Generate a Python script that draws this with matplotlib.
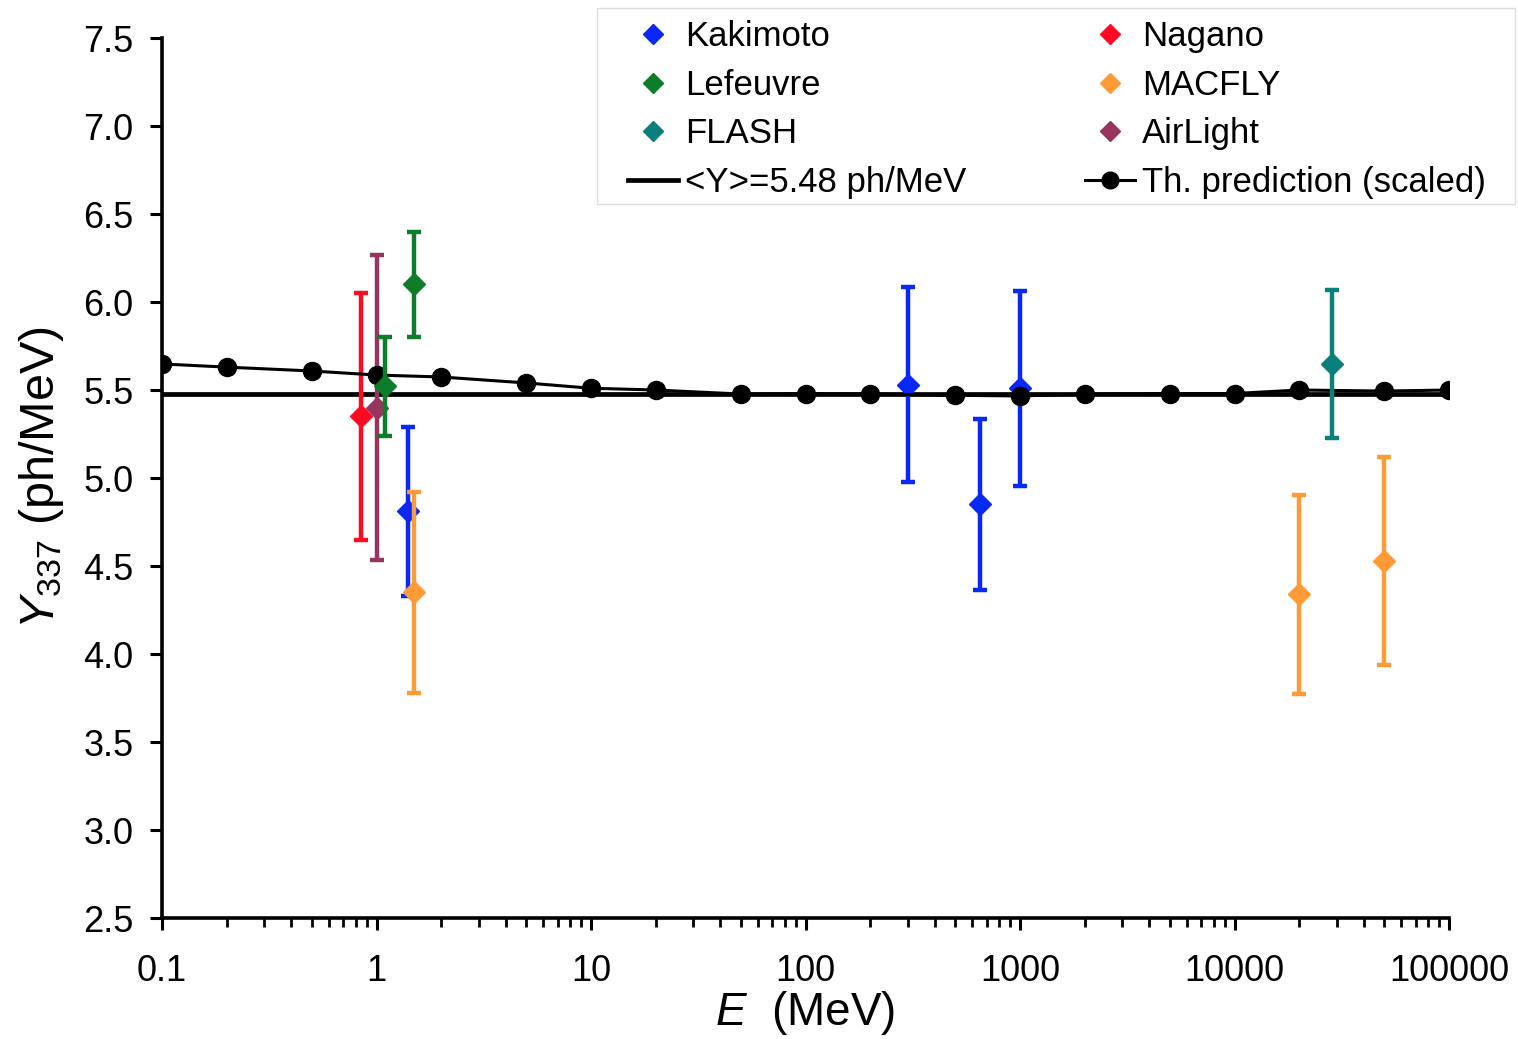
import matplotlib
matplotlib.use("Agg")
import matplotlib.pyplot as plt
from matplotlib.lines import Line2D
from matplotlib.patches import Rectangle
from matplotlib.ticker import FixedLocator, LogLocator, NullFormatter, FuncFormatter

plt.rcParams['font.family'] = ['Liberation Sans', 'DejaVu Sans']
plt.rcParams['mathtext.fontset'] = 'custom'
plt.rcParams['mathtext.rm'] = 'Liberation Sans'
plt.rcParams['mathtext.it'] = 'Liberation Sans:italic'

# Experimental data: energy (MeV), yield (ph/MeV), error
kakimoto_E = [1.4, 300, 650, 1000]
kakimoto_Y = [4.81, 5.53, 4.85, 5.51]
kakimoto_err = [0.48, 0.555, 0.485, 0.555]

nagano_E = [0.85]
nagano_Y = [5.35]
nagano_err = [0.70]

lefeuvre_E = [1.1, 1.5]
lefeuvre_Y = [5.52, 6.10]
lefeuvre_err = [0.28, 0.30]

macfly_E = [1.5, 20000, 50000]
macfly_Y = [4.35, 4.34, 4.53]
macfly_err = [0.57, 0.565, 0.59]

flash_E = [28500]
flash_Y = [5.65]
flash_err = [0.42]

airlight_E = [1.0]
airlight_Y = [5.40]
airlight_err = [0.865]

mean_E = [0.1, 100000]
mean_Y = [5.48, 5.48]

theory_E = [0.1, 0.2, 0.5, 1, 2, 5, 10, 20, 50, 100, 200, 500, 1000, 2000,
            5000, 10000, 20000, 50000, 100000]
theory_Y = [5.648, 5.63, 5.608, 5.585, 5.574, 5.54, 5.51, 5.50, 5.477, 5.48,
            5.477, 5.47, 5.466, 5.477, 5.48, 5.48, 5.50, 5.494, 5.50]

x_ticks = [0.1, 1, 10, 100, 1000, 10000, 100000]
x_tick_labels = ["0.1", "1", "10", "100", "1000", "10000", "100000"]
y_ticks = [2.5, 3.0, 3.5, 4.0, 4.5, 5.0, 5.5, 6.0, 6.5, 7.0, 7.5]

c_kak = '#0A28F5'
c_nag = '#FF0A22'
c_lef = '#0E7D2A'
c_mac = '#FF9B37'
c_fla = '#0A7F7B'
c_air = '#973561'

W, H = 1518, 1039
fig = plt.figure(figsize=(W/100, H/100), dpi=100)
ax = fig.add_axes([162/W, 1 - 918/H, (1449-162)/W, (918-38)/H])

ax.plot(mean_E, mean_Y, color='black', lw=3.4, zorder=2, solid_capstyle='butt')

eb_kw = dict(fmt='D', markersize=11, elinewidth=3.2, capsize=5, capthick=3.2, linestyle='none')

def eb(E, Y, err, color, z):
    ax.errorbar(E, Y, yerr=err, color=color, zorder=z, **eb_kw)

eb(airlight_E, airlight_Y, airlight_err, c_air, 3)
eb(nagano_E, nagano_Y, nagano_err, c_nag, 3)
eb(kakimoto_E, kakimoto_Y, kakimoto_err, c_kak, 3)
ax.plot(theory_E, theory_Y, color='black', lw=2.2, marker='o', markersize=13, zorder=4)
eb(lefeuvre_E, lefeuvre_Y, lefeuvre_err, c_lef, 5)
eb(macfly_E, macfly_Y, macfly_err, c_mac, 5)
eb(flash_E, flash_Y, flash_err, c_fla, 5)

ax.set_xscale('log')
ax.set_xlim(0.1, 100000)
ax.set_ylim(2.5, 7.5)
ax.xaxis.set_major_locator(FixedLocator(x_ticks))
ax.set_xticklabels(x_tick_labels)
ax.xaxis.set_minor_locator(LogLocator(base=10, subs=range(2, 10), numticks=20))
ax.xaxis.set_minor_formatter(NullFormatter())
ax.set_yticks(y_ticks)
ax.yaxis.set_major_formatter(FuncFormatter(lambda v, p: f"{v:.1f}"))

for s in ['top', 'right']:
    ax.spines[s].set_visible(False)
for s in ['left', 'bottom']:
    ax.spines[s].set_linewidth(2.6)

ax.tick_params(axis='both', which='major', direction='out', length=8.6, width=2.2,
               labelsize=26)
ax.tick_params(axis='x', which='major', pad=17)
ax.tick_params(axis='y', which='major', pad=12)
ax.tick_params(axis='x', which='minor', direction='out', length=6.5, width=2.0)

ax.set_xlabel(r"$\mathit{E}$  (MeV)", fontsize=33, labelpad=0)
ax.set_ylabel(r"$\mathit{Y}_{\mathregular{337}}$ (ph/MeV)", fontsize=35, labelpad=12)

mk = dict(marker='D', linestyle='none', markersize=10.5)
handles = [
    Line2D([], [], color=c_kak, **mk),
    Line2D([], [], color=c_lef, **mk),
    Line2D([], [], color=c_fla, **mk),
    Line2D([], [], color='black', lw=3.4),
    Line2D([], [], color=c_nag, **mk),
    Line2D([], [], color=c_mac, **mk),
    Line2D([], [], color=c_air, **mk),
    Line2D([], [], color='black', lw=2.2, marker='o', markersize=12),
]
labels = ["Kakimoto", "Lefeuvre", "FLASH", "<Y>=5.48 ph/MeV",
          "Nagano", "MACFLY", "AirLight", "Th. prediction (scaled)"]

# legend frame drawn separately (wider side padding than top/bottom)
fig.patches.append(Rectangle((597/W, 1 - 204/H), (1515-597)/W, (204-8)/H,
                             transform=fig.transFigure, facecolor='white',
                             edgecolor='#DDDDDD', lw=1.0, zorder=0))
leg = fig.legend(handles, labels, ncol=2, loc='upper right',
                 bbox_to_anchor=(1498/W, 1 - 8/H), borderaxespad=0,
                 fontsize=25, frameon=False,
                 handlelength=1.45, handletextpad=0.2,
                 columnspacing=3.4, labelspacing=0.45, borderpad=0.35)

fig.savefig("out.png", dpi=100)
